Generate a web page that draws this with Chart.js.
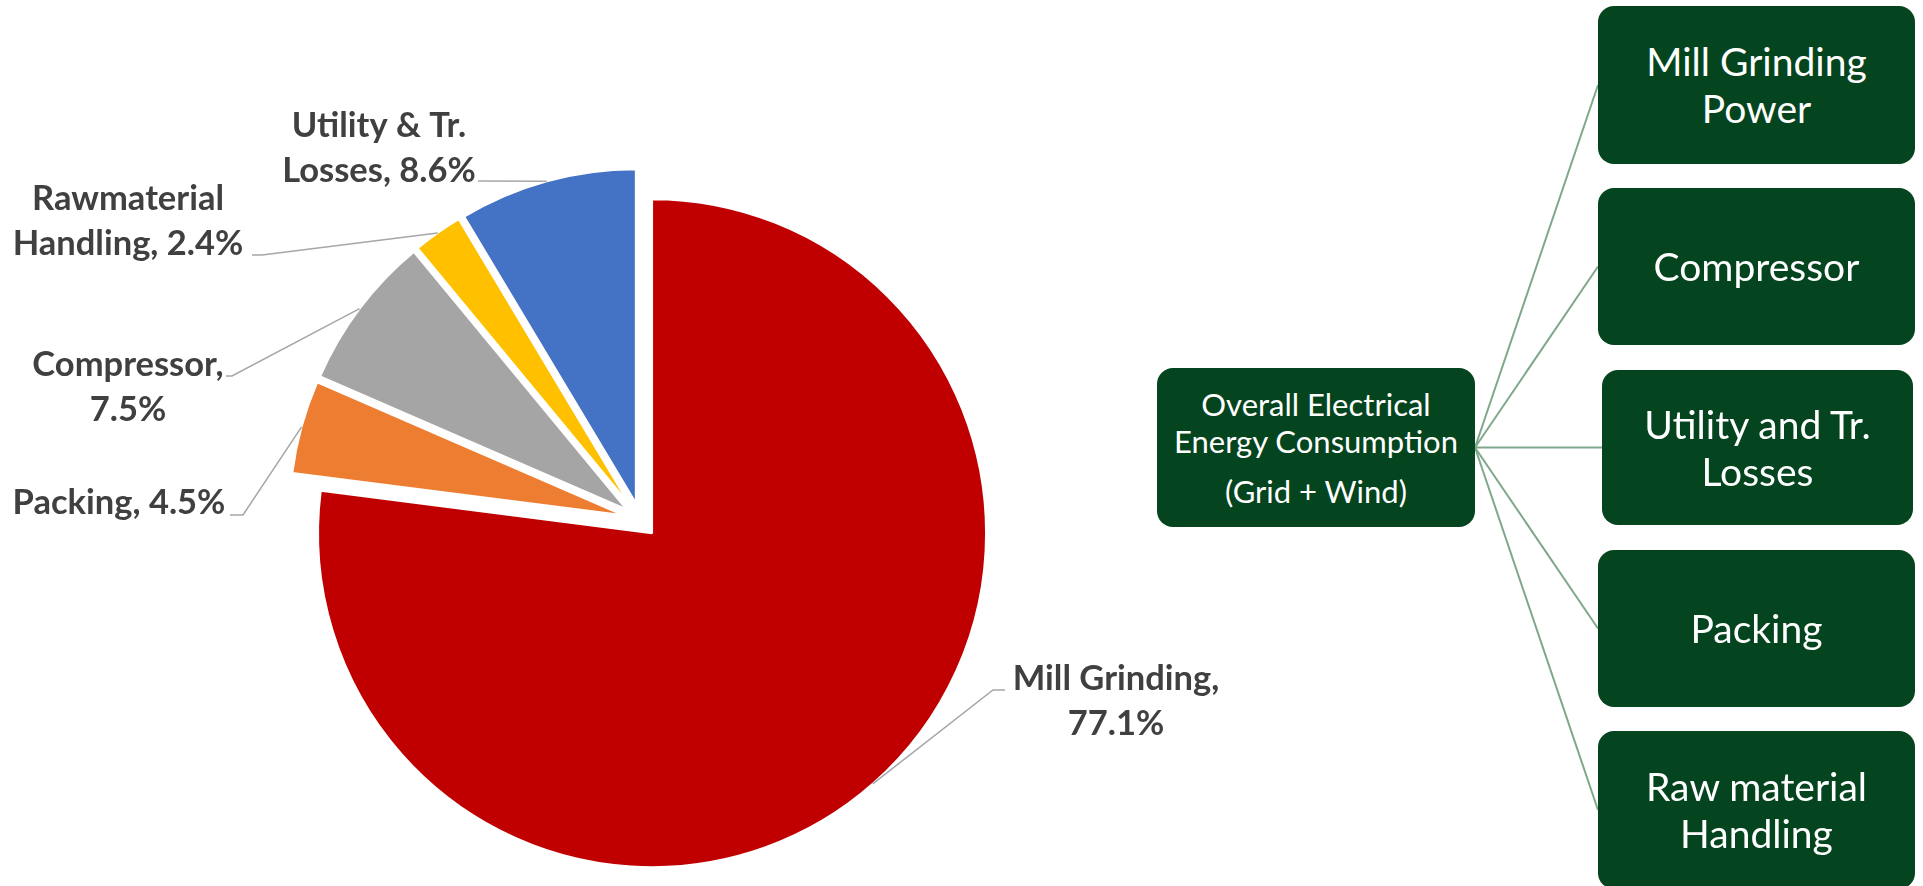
<!DOCTYPE html>
<html lang="en">
<head>
    <meta charset="UTF-8">
    <title>Electrical Energy Consumption</title>
    <script src="https://cdn.jsdelivr.net/npm/chart.js"></script>
    <style>
        html, body { margin: 0; padding: 0; background: #fff; overflow: hidden; }
        body { width: 1923px; height: 886px; position: relative; font-family: Lato, "Open Sans", sans-serif; }
        .chart-wrap { position: absolute; left: 0; top: 0; width: 1281px; height: 886px; }
        #links { position: absolute; left: 0; top: 0; }
        .box {
            position: absolute;
            background: #04441e;
            color: #fff;
            border-radius: 16px;
            display: flex;
            flex-direction: column;
            align-items: center;
            justify-content: center;
            text-align: center;
            font-size: 39px;
            line-height: 47px;
        }
        .box.main { font-size: 31px; line-height: 37px; }
        .box.main .note { margin-top: 13px; }
    </style>
</head>
<body>
<div class="chart-wrap">
    <canvas id="energyPie"></canvas>
</div>

<svg id="links" width="1923" height="886"></svg>

<div class="box main" id="box-main" style="left:1157px; top:368px; width:318px; height:159px;">
    <div>Overall Electrical<br>Energy Consumption</div>
    <div class="note">(Grid + Wind)</div>
</div>
<div class="box child" style="left:1598px; top:6px; width:317px; height:158px;">Mill Grinding<br>Power</div>
<div class="box child" style="left:1598px; top:188px; width:317px; height:157px;">Compressor</div>
<div class="box child" style="left:1602px; top:370px; width:311px; height:155px;">Utility and Tr.<br>Losses</div>
<div class="box child" style="left:1598px; top:550px; width:317px; height:157px;">Packing</div>
<div class="box child" style="left:1598px; top:731px; width:317px; height:158px;">Raw material<br>Handling</div>

<script>
    // chart data
    const categories = ['Mill Grinding', 'Packing', 'Compressor', 'Rawmaterial Handling', 'Utility & Tr. Losses'];
    const shares = [77.1, 4.5, 7.5, 2.4, 8.6];
    const sliceColors = ['#c00000', '#ed7d31', '#a5a5a5', '#ffc000', '#4472c4'];

    // how far every slice is pulled out of the pie
    const explodeBy = 17.5;

    // where each data label sits (text centre of first line) and the bend of its leader line
    const labelPos = [
        { x: 1116, y: 679, wrap: 260, lead: [[1005, 690], [993, 690]] },
        { x: 119, y: 503, wrap: 270, lead: [[230, 515], [243, 515]] },
        { x: 128, y: 365, wrap: 230, lead: [[226, 376], [232, 376]] },
        { x: 128, y: 199, wrap: 260, lead: [[252, 255], [262, 255]] },
        { x: 379, y: 126, wrap: 230, lead: [[478, 181]] }
    ];

    function wrapText(ctx, text, maxWidth) {
        const words = text.split(' ');
        const lines = [];
        let line = '';
        words.forEach(w => {
            const test = line ? line + ' ' + w : w;
            if (line && ctx.measureText(test).width > maxWidth) {
                lines.push(line);
                line = w;
            } else {
                line = test;
            }
        });
        lines.push(line);
        return lines;
    }

    // draw the slices pulled outward along their middle angle
    const explodeSlices = {
        id: 'explodeSlices',
        beforeDatasetDraw(chart, args) {
            const ctx = chart.ctx;
            args.meta.data.forEach(arc => {
                const mid = (arc.startAngle + arc.endAngle) / 2;
                ctx.save();
                ctx.translate(Math.cos(mid) * explodeBy, Math.sin(mid) * explodeBy);
                arc.draw(ctx);
                ctx.restore();
            });
            return false;
        }
    };

    // excel-like labels with leader lines going to the middle of each slice's rim
    const leaderLabels = {
        id: 'leaderLabels',
        afterDatasetsDraw(chart) {
            const ctx = chart.ctx;
            const meta = chart.getDatasetMeta(0);
            ctx.save();
            ctx.font = 'bold 34.5px Lato, "Open Sans", sans-serif';
            ctx.textAlign = 'center';
            ctx.textBaseline = 'middle';
            meta.data.forEach((arc, i) => {
                const p = arc.getProps(['x', 'y', 'startAngle', 'endAngle', 'outerRadius'], true);
                const mid = (p.startAngle + p.endAngle) / 2;
                const ex = p.x + Math.cos(mid) * (p.outerRadius + explodeBy);
                const ey = p.y + Math.sin(mid) * (p.outerRadius + explodeBy);
                const pos = labelPos[i];

                ctx.strokeStyle = '#a6a6a6';
                ctx.lineWidth = 1.5;
                ctx.beginPath();
                ctx.moveTo(pos.lead[0][0], pos.lead[0][1]);
                pos.lead.slice(1).forEach(pt => ctx.lineTo(pt[0], pt[1]));
                ctx.lineTo(ex, ey);
                ctx.stroke();

                ctx.fillStyle = '#404040';
                const text = categories[i] + ', ' + shares[i].toFixed(1) + '%';
                wrapText(ctx, text, pos.wrap).forEach((ln, k) => {
                    ctx.fillText(ln, pos.x, pos.y + k * 45);
                });
            });
            ctx.restore();
        }
    };

    const ctx = document.getElementById('energyPie').getContext('2d');
    new Chart(ctx, {
        type: 'pie',
        data: {
            labels: categories,
            datasets: [{
                data: shares,
                backgroundColor: sliceColors,
                borderColor: '#ffffff',
                borderWidth: 2
            }]
        },
        options: {
            responsive: true,
            maintainAspectRatio: false,
            animation: false,
            radius: 334,
            layout: { padding: { left: 0, top: 154, right: 0, bottom: 0 } },
            plugins: {
                legend: { display: false },
                tooltip: { enabled: false }
            }
        },
        plugins: [explodeSlices, leaderLabels]
    });

    // connector lines of the little tree diagram, taken from the boxes themselves
    const svg = document.getElementById('links');
    const root = document.getElementById('box-main').getBoundingClientRect();
    const x0 = root.right, y0 = root.top + root.height / 2;
    document.querySelectorAll('.box.child').forEach(b => {
        const r = b.getBoundingClientRect();
        const line = document.createElementNS('http://www.w3.org/2000/svg', 'line');
        line.setAttribute('x1', x0);
        line.setAttribute('y1', y0);
        line.setAttribute('x2', r.left);
        line.setAttribute('y2', r.top + r.height / 2);
        line.setAttribute('stroke', '#7fa88b');
        line.setAttribute('stroke-width', '2');
        svg.appendChild(line);
    });
</script>
</body>
</html>
